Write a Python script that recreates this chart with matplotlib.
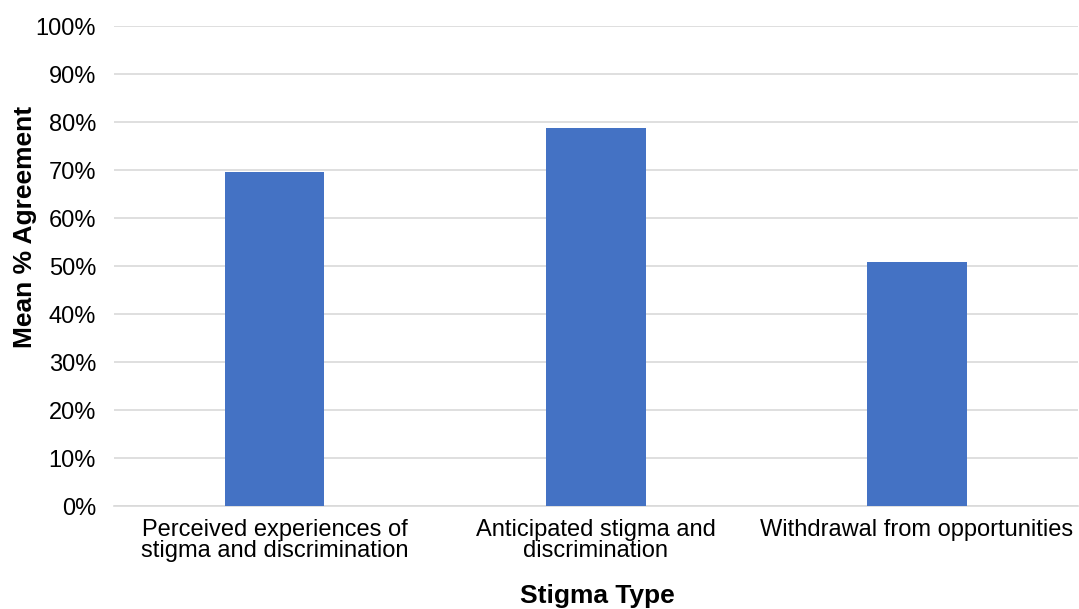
import matplotlib.pyplot as plt

categories = ["Perceived experiences of\nstigma and discrimination",
              "Anticipated stigma and\ndiscrimination",
              "Withdrawal from opportunities"]
values = [69.6, 78.8, 50.8]
yticks = [0, 10, 20, 30, 40, 50, 60, 70, 80, 90, 100]

plt.rcParams['font.family'] = ['Liberation Sans', 'DejaVu Sans']

fig = plt.figure(figsize=(10.79, 6.09), dpi=100)
ax = fig.add_axes([0.1057, 0.169, 0.893, 0.788])

x = range(len(categories))
ax.bar(x, values, width=0.31, color="#4472C4", zorder=3)

ax.set_xlim(-0.5, len(categories) - 0.5)
ax.set_ylim(0, 100)
ax.set_yticks(yticks)
ax.set_yticklabels([f"{t}%" for t in yticks], fontsize=17)
ax.set_xticks(list(x))
ax.set_xticklabels(categories, fontsize=17, linespacing=0.95)
ax.grid(axis="y", color="#d9d9d9", linewidth=1.2, zorder=0)
for s in ["top", "right", "left"]:
    ax.spines[s].set_visible(False)
ax.spines["bottom"].set_color("#d9d9d9")
ax.spines["bottom"].set_linewidth(1.2)
ax.tick_params(axis="y", length=0, pad=13)
ax.tick_params(axis="x", length=0, pad=9)

# axis titles placed in figure coords
fig.text(597 / 1079, 1 - 596 / 609, "Stigma Type", fontsize=19,
         fontweight="bold", ha="center", va="center")
fig.text(25 / 1079, 1 - 227 / 609, "Mean % Agreement", fontsize=19,
         fontweight="bold", ha="center", va="center", rotation=90)

fig.savefig("out.png", dpi=100)
